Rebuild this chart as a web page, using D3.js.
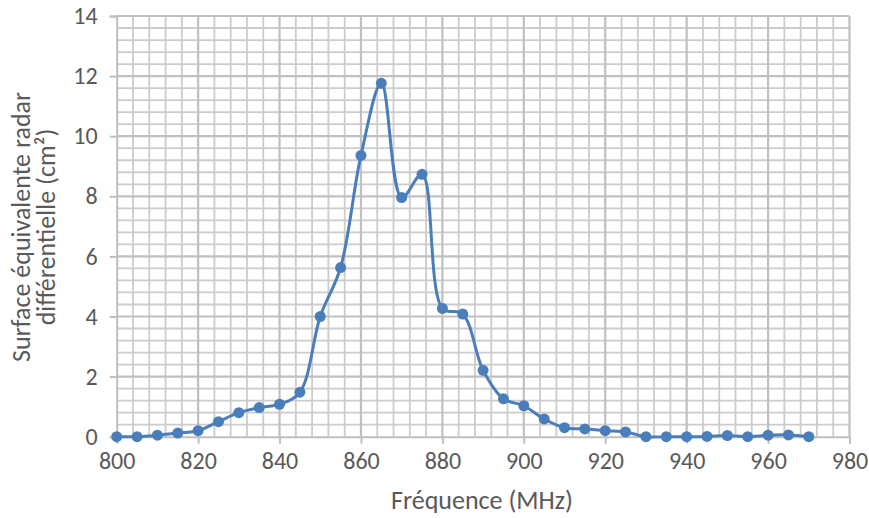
<!DOCTYPE html>
<html><head><meta charset="utf-8">
<script src="https://cdn.jsdelivr.net/npm/d3@7"></script>
<style>
body{margin:0;background:#fff;}
svg{display:block;font-family:Carlito, Lato, "Open Sans", sans-serif;}
</style></head>
<body><svg id="c" width="869" height="518"></svg>
<script>
const frequencies = [800,805,810,815,820,825,830,835,840,845,850,855,860,865,870,875,880,885,890,895,900,905,910,915,920,925,930,935,940,945,950,955,960,965,970];
const sigma = [0.00,0.00,0.05,0.12,0.20,0.50,0.80,0.97,1.08,1.48,4.00,5.63,9.36,11.76,7.96,8.73,4.27,4.08,2.21,1.26,1.03,0.59,0.30,0.26,0.20,0.16,0.00,0.00,0.00,0.01,0.04,0.00,0.05,0.06,0.00];
const xTicks = [800,820,840,860,880,900,920,940,960,980];
const yTicks = [0,2,4,6,8,10,12,14];
const xTitle = "Fréquence (MHz)";
const yTitle1 = "Surface équivalente radar";
const yTitle2 = "différentielle (cm²)";

const svg = d3.select("#c");
const x = d3.scaleLinear().domain([800,980]).range([116.7,849.5]);
const y = d3.scaleLinear().domain([0,14]).range([436.7,16]);

const grid = svg.append("g");
// minor gridlines
grid.selectAll(".vx").data(d3.range(804,980,4).filter(v=>v%20!==0)).join("line")
  .attr("x1",d=>x(d)).attr("x2",d=>x(d)).attr("y1",y(14)).attr("y2",y(0))
  .attr("stroke","#cccccc").attr("stroke-width",1.8);
grid.selectAll(".hy").data(d3.range(0.4,14,0.4).filter(v=>Math.abs(v/2-Math.round(v/2))>1e-6)).join("line")
  .attr("y1",d=>y(d)).attr("y2",d=>y(d)).attr("x1",x(800)).attr("x2",x(980))
  .attr("stroke","#cccccc").attr("stroke-width",1.8);
// major gridlines
grid.selectAll(".mx").data(xTicks.slice(1)).join("line")
  .attr("x1",d=>x(d)).attr("x2",d=>x(d)).attr("y1",y(14)).attr("y2",y(0))
  .attr("stroke","#c0c0c0").attr("stroke-width",2.2);
grid.selectAll(".my").data(yTicks.slice(1)).join("line")
  .attr("y1",d=>y(d)).attr("y2",d=>y(d)).attr("x1",x(800)).attr("x2",x(980))
  .attr("stroke","#c0c0c0").attr("stroke-width",2.2);

// axes
const xAxis = svg.append("g").attr("transform",`translate(0,${y(0)})`)
  .call(d3.axisBottom(x).tickValues(xTicks).tickSize(7).tickPadding(8).tickFormat(d3.format("d")));
const yAxis = svg.append("g").attr("transform",`translate(${x(800)},0)`)
  .call(d3.axisLeft(y).tickValues(yTicks).tickSize(7).tickPadding(12).tickFormat(d3.format("d")));
[xAxis,yAxis].forEach(a=>{
  a.select(".domain").attr("stroke","#bfbfbf").attr("stroke-width",2);
  a.selectAll(".tick line").attr("stroke","#bfbfbf").attr("stroke-width",2);
  a.selectAll(".tick text").attr("fill","#595959").style("font-size","24px").style("font-family","Carlito, Lato, sans-serif");
});

// line
const color = "#4a7ebb";
const line = d3.line().x((d,i)=>x(frequencies[i])).y(d=>y(d)).curve(d3.curveCatmullRom.alpha(0.5));
svg.append("path").datum(sigma).attr("d",line).attr("fill","none").attr("stroke",color).attr("stroke-width",3);
svg.selectAll(".pt").data(sigma).join("circle")
  .attr("cx",(d,i)=>x(frequencies[i])).attr("cy",d=>y(d)).attr("r",5.5).attr("fill",color);

// titles
svg.append("text").attr("x",482).attr("y",509).attr("text-anchor","middle")
  .attr("fill","#595959").style("font-size","26px").text(xTitle);
const yt = svg.append("text").attr("transform","translate(0,227) rotate(-90)")
  .attr("text-anchor","middle").attr("fill","#595959").style("font-size","26px");
yt.append("tspan").attr("x",0).attr("y",30).text(yTitle1);
yt.append("tspan").attr("x",0).attr("y",55).text(yTitle2);
</script></body></html>
